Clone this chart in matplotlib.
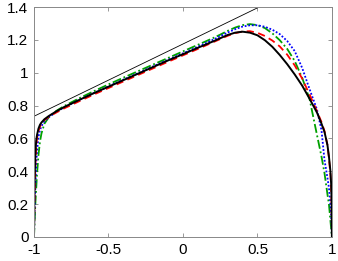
import matplotlib
matplotlib.use("Agg")
import matplotlib.pyplot as plt
from matplotlib.ticker import FuncFormatter

plt.rcParams['font.family'] = ['Liberation Sans', 'DejaVu Sans']
plt.rcParams['axes.unicode_minus'] = False

x = [-1, -0.998, -0.995, -0.99, -0.985, -0.98, -0.97, -0.96, -0.95, -0.93, -0.9,
     -0.85, -0.8, -0.7, -0.6, -0.5, -0.4, -0.3, -0.2, -0.1, 0, 0.1, 0.2, 0.25,
     0.3, 0.35, 0.4, 0.45, 0.5, 0.55, 0.6, 0.65, 0.7, 0.75, 0.8, 0.85, 0.9,
     0.93, 0.95, 0.97, 0.98, 0.99, 0.995, 0.998, 1]

black = [0, 0.2, 0.38, 0.52, 0.59, 0.62, 0.66, 0.683, 0.697, 0.717, 0.737,
         0.765, 0.79, 0.833, 0.875, 0.915, 0.955, 0.995, 1.035, 1.075, 1.113,
         1.152, 1.19, 1.21, 1.23, 1.244, 1.25, 1.244, 1.228, 1.198, 1.158,
         1.108, 1.052, 0.99, 0.922, 0.842, 0.757, 0.69, 0.64, 0.56, 0.49, 0.4,
         0.32, 0.22, 0]

red = [0, 0.15, 0.3, 0.46, 0.55, 0.6, 0.645, 0.672, 0.69, 0.712, 0.732,
       0.758, 0.782, 0.825, 0.867, 0.907, 0.947, 0.987, 1.027, 1.067, 1.106,
       1.145, 1.185, 1.205, 1.225, 1.241, 1.251, 1.253, 1.243, 1.224, 1.196,
       1.16, 1.11, 1.045, 0.965, 0.867, 0.765, 0.7, 0.645, 0.56, 0.48, 0.38,
       0.3, 0.2, 0]

blue = [0, 0.1, 0.2, 0.33, 0.45, 0.52, 0.61, 0.65, 0.675, 0.705, 0.73,
        0.762, 0.788, 0.833, 0.876, 0.917, 0.958, 0.998, 1.039, 1.079, 1.118,
        1.158, 1.2, 1.222, 1.245, 1.265, 1.281, 1.289, 1.289, 1.28, 1.262,
        1.235, 1.193, 1.132, 1.03, 0.9, 0.775, 0.65, 0.47, 0.36, 0.3, 0.2,
        0.13, 0.07, 0]

green = [0, 0.05, 0.12, 0.22, 0.3, 0.38, 0.5, 0.58, 0.63, 0.69, 0.73,
         0.768, 0.796, 0.843, 0.887, 0.929, 0.97, 1.01, 1.05, 1.09, 1.13,
         1.17, 1.21, 1.232, 1.255, 1.275, 1.29, 1.296, 1.29, 1.272, 1.24,
         1.198, 1.145, 1.072, 0.97, 0.84, 0.62, 0.49, 0.39, 0.26, 0.2, 0.1,
         0.05, 0.02, 0]

tangent_x = [-1, 0.5]
tangent_y = [0.735, 1.395]

fig = plt.figure(figsize=(3.38, 2.61), dpi=100)
ax = fig.add_axes([0.1006, 0.092, 0.8814, 0.881])

ax.plot(tangent_x, tangent_y, color='black', lw=0.6)
ax.plot(x, green, color='#00a000', lw=1.3, ls=(0, (5, 1.5, 1, 1.5)))
ax.plot(x, blue, color='#0000ff', lw=1.3, ls=(0, (1, 1)))
ax.plot(x, red, color='#ff0000', lw=1.3, ls=(0, (4, 2.5)))
ax.plot(x, black, color='black', lw=1.4)

ax.set_xlim(-1, 1)
ax.set_ylim(0, 1.4)
ax.set_xticks([-1, -0.5, 0, 0.5, 1])
ax.set_yticks([0, 0.2, 0.4, 0.6, 0.8, 1, 1.2, 1.4])
fmt = FuncFormatter(lambda v, p: ('%g' % round(v, 2)))
ax.xaxis.set_major_formatter(fmt)
ax.yaxis.set_major_formatter(fmt)
ax.tick_params(direction='in', length=3, width=0.6, color='#888888',
               top=True, right=True, labelsize=11, pad=4)
for s in ax.spines.values():
    s.set_color('#888888')
    s.set_linewidth(0.7)

fig.savefig('out.png', dpi=100)
